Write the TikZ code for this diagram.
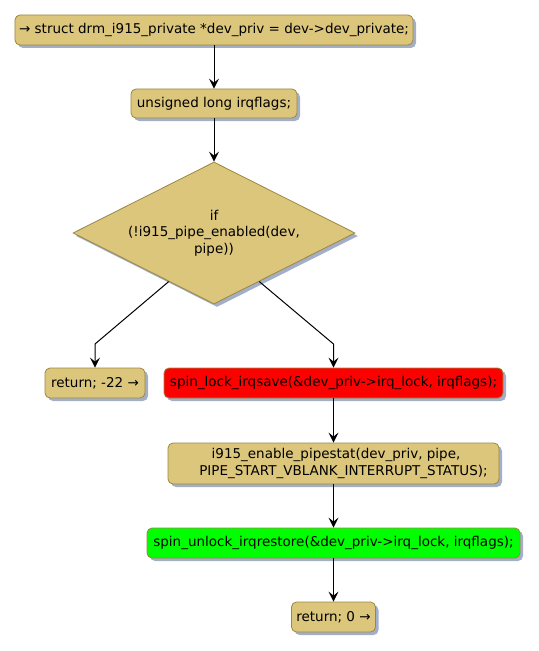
\documentclass[tikz,border=0pt]{standalone}
\usepackage{fontspec}
\setmainfont{DejaVu Sans}
\usetikzlibrary{shapes.geometric,arrows.meta,shadows,calc}
\definecolor{boxfill}{HTML}{DBC67C}
\definecolor{boxline}{HTML}{9A8840}
\definecolor{shade}{HTML}{A3AEC8}
\begin{document}
\begin{tikzpicture}[x=1bp,y=-1bp,
  basefont/.style={font=\fontsize{13.5bp}{16.6bp}\selectfont},
  act/.style={basefont, draw=boxline, fill=boxfill, rounded corners=5bp, line width=0.8bp,
    inner sep=0pt, minimum height=30bp, align=center,
    drop shadow={shadow xshift=3bp, shadow yshift=-3bp, fill=shade, opacity=1}},
  dec/.style={basefont, shape=diamond, draw=boxline, fill=boxfill, line width=0.8bp,
    inner sep=0pt, minimum width=282bp, minimum height=142bp, aspect=1.986, align=center,
    drop shadow={shadow xshift=3bp, shadow yshift=-3bp, fill=shade, opacity=1}},
  arr/.style={-{Stealth[length=10bp,width=10bp,inset=4bp]}, line width=1bp}]
\useasboundingbox (0,0) rectangle (539,651);
\node[act, minimum width=398bp] (b1) at (214,30) {→ struct drm\_i915\_private *dev\_priv = dev->dev\_private;};
\node[act, minimum width=166bp, minimum height=29bp] (b2) at (214,103.5) {unsigned long irqflags;};
\node[dec] (d) at (214,233) {if\\(!i915\_pipe\_enabled(dev,\\pipe))};
\node[act, minimum width=100bp] (r1) at (95,383) {return; -22 →};
\node[act, minimum width=339bp, fill=red] (lk) at (333.5,383) {spin\_lock\_irqsave(\&dev\_priv->irq\_lock, irqflags);};
\node[act, minimum width=331bp, minimum height=41bp] (ps) at (333.5,463.5) {\hspace*{5bp}i915\_enable\_pipestat(dev\_priv, pipe,\\\hspace*{20bp}PIPE\_START\_VBLANK\_INTERRUPT\_STATUS);};
\node[act, minimum width=373bp, fill=green] (ul) at (333.5,543) {spin\_unlock\_irqrestore(\&dev\_priv->irq\_lock, irqflags);};
\node[act, minimum width=84bp] (r0) at (333.5,617) {return; 0 →};
\coordinate (cl) at (95,344);
\coordinate (cr) at (333.5,344);
\draw[arr] (b1) -- (b2);
\draw[arr] (b2) -- (d);
\draw[arr] ($(d.west)!0.68!(d.south)$) -- (cl) -- (r1.north);
\draw[arr] ($(d.south)!0.32!(d.east)$) -- (cr) -- (lk.north);
\draw[arr] (lk) -- (ps);
\draw[arr] (ps) -- (ul);
\draw[arr] (ul) -- (r0);
\end{tikzpicture}
\end{document}
